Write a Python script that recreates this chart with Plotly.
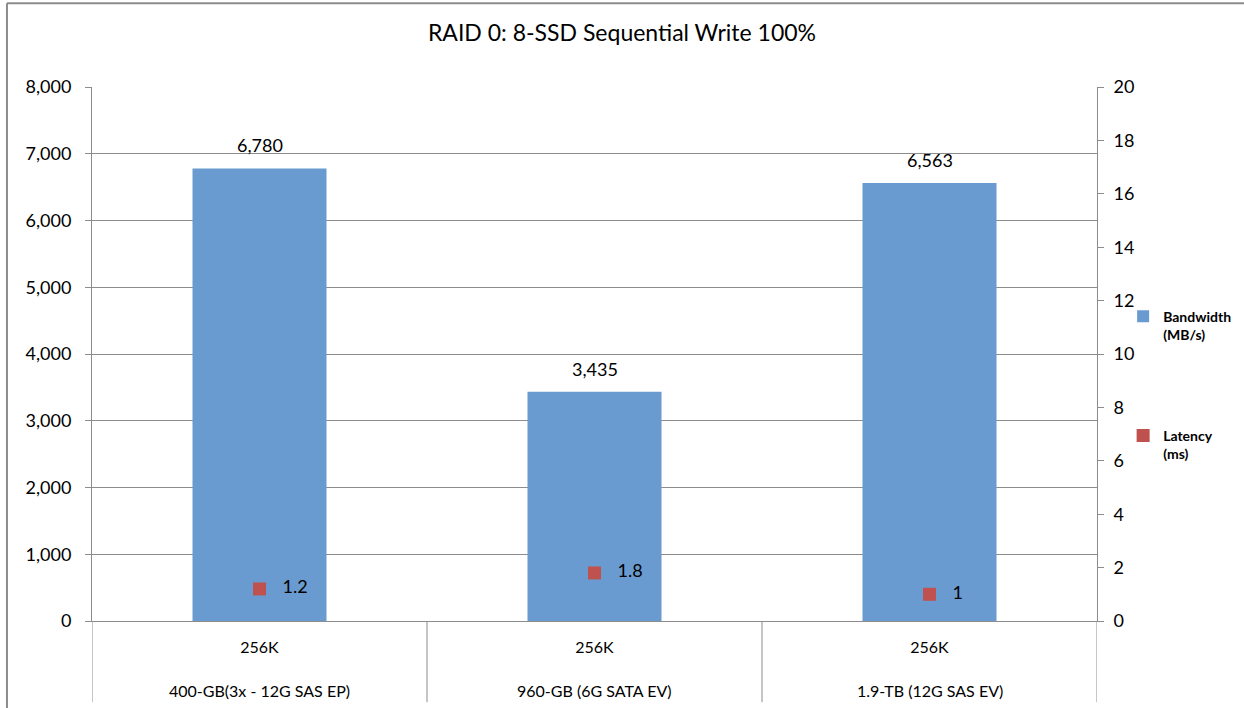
import plotly.graph_objects as go

devices = ["400-GB(3x - 12G SAS EP)", "960-GB (6G SATA EV)", "1.9-TB (12G SAS EV)"]
block_sizes = ["256K", "256K", "256K"]
bandwidth = [6780, 3435, 6563]
latency = [1.2, 1.8, 1]

FONT = "Lato, 'Open Sans', sans-serif"
GRID = "#8c8c8c"

fig = go.Figure()
fig.add_trace(go.Bar(
    x=devices, y=bandwidth, name="<b>Bandwidth<br>(MB/s)</b>",
    marker=dict(color="#6a9bd0", line=dict(width=0)),
    width=0.4, legendgroup="a",
))
fig.add_trace(go.Scatter(
    x=devices, y=latency, yaxis="y2", name="<b>Latency<br>(ms)</b>",
    mode="markers+text",
    marker=dict(symbol="square", size=13, color="#bf524e"),
    text=[f"{v:g}" for v in latency], texttemplate="   %{text}",
    textposition="middle right", textfont=dict(size=18, color="#000"),
    legendgroup="b", cliponaxis=False,
))

# bar value labels
for d, v in zip(devices, bandwidth):
    fig.add_annotation(x=d, y=v, xref="x", yref="y", text=f"{v:,}",
                       showarrow=False, yanchor="bottom", yshift=10,
                       font=dict(size=18, color="#000"))

# outer category labels
for d in devices:
    fig.add_annotation(x=d, y=0, xref="x", yref="paper", text=d,
                       showarrow=False, yanchor="middle", yshift=-69,
                       font=dict(size=16, color="#000"))

# group dividers below the axis
for i in range(len(devices) + 1):
    fig.add_shape(type="line", xref="x", yref="paper", x0=i - 0.5, x1=i - 0.5,
                  y0=0, y1=-0.152, line=dict(color=GRID, width=1))

fig.update_layout(
    width=1244, height=708,
    margin=dict(l=92, r=147, t=87, b=87, autoexpand=False),
    paper_bgcolor="white", plot_bgcolor="white",
    font=dict(family=FONT, size=17, color="#000"),
    title=dict(text="RAID 0: 8-SSD Sequential Write 100%", x=0.5, xref="container",
               xanchor="center", y=0.953, yanchor="middle",
               font=dict(size=23, color="#000")),
    showlegend=True,
    legend=dict(x=1.026, y=0.6, xanchor="left", yanchor="top", valign="top",
                font=dict(size=14, color="#000"), itemwidth=30,
                tracegroupgap=80, bgcolor="rgba(0,0,0,0)"),
    xaxis=dict(type="category", range=[-0.5, len(devices) - 0.5],
               tickvals=devices, ticktext=block_sizes, showline=True,
               linecolor=GRID, linewidth=1, showgrid=False, ticks="",
               ticklabelstandoff=12, tickfont=dict(size=16)),
    yaxis=dict(range=[0, 8000], dtick=1000, tickformat=",d", showgrid=True,
               gridcolor=GRID, gridwidth=1, showline=True, linecolor=GRID,
               ticks="outside", ticklen=6, tickcolor=GRID, zeroline=False,
               ticklabelstandoff=10, tickfont=dict(size=18)),
    yaxis2=dict(range=[0, 20], dtick=2, overlaying="y", side="right",
                showgrid=False, showline=True, linecolor=GRID, ticks="outside",
                ticklen=6, tickcolor=GRID, zeroline=False,
                ticklabelstandoff=6, tickfont=dict(size=18)),
)

# outer chart frame (left and top edges)
fig.add_shape(type="line", xref="paper", yref="paper", x0=-0.0846, x1=-0.0846,
              y0=1.157, y1=-0.17, line=dict(color=GRID, width=2))
fig.add_shape(type="line", xref="paper", yref="paper", x0=-0.0846, x1=1.15,
              y0=1.157, y1=1.157, line=dict(color=GRID, width=2))

fig.write_html("out.html")
